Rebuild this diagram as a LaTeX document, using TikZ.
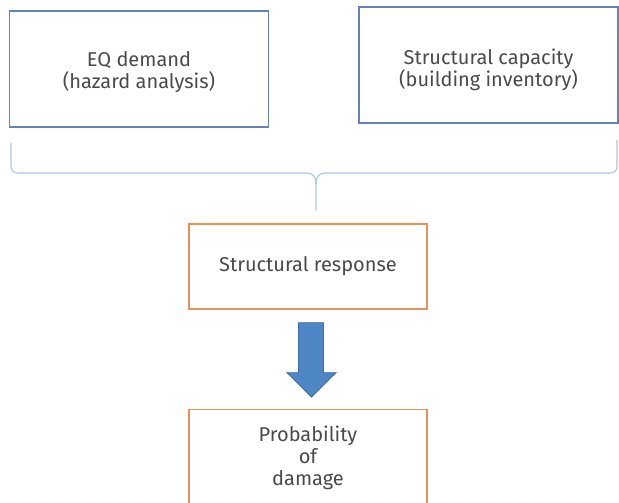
\documentclass[tikz,border=0pt]{standalone}
\usepackage{fontspec}
\setmainfont{Fira Sans}
\usetikzlibrary{calc}
\definecolor{boxblue}{HTML}{6383B8}
\definecolor{bracecol}{HTML}{A9C6E4}
\definecolor{boxorange}{HTML}{EE8F55}
\definecolor{arrowfill}{HTML}{4F86C6}
\definecolor{arrowline}{HTML}{3E6DA6}
\definecolor{txt}{HTML}{4A4A4A}
\tikzset{
  label text/.style={text=txt, align=center,
    font=\fontsize{20}{22}\selectfont, inner sep=0pt},
  box/.style={draw, line width=1.4pt, fill=white, label text},
  inputbox/.style={box, draw=boxblue, minimum width=259pt, minimum height=116pt},
  stagebox/.style={box, draw=boxorange, minimum width=238pt},
  bracepath/.style={draw=bracecol, line width=1.1pt},
}
\begin{document}
\begin{tikzpicture}[x=1pt,y=-1pt]
  \clip (0,0) rectangle (619,503);
  \fill[white] (0,0) rectangle (619,503);

  % inputs
  \node[inputbox] (demand) at (139,69) {};
  \node[label text] (demandtext) at ([yshift=-3pt]demand.center) {EQ demand\\(hazard analysis)};
  \node[inputbox] (capacity) at (488.5,65) {};
  \node[label text] (capacitytext) at ([yshift=-5pt]capacity.center) {Structural capacity\\(building inventory)};

  % brace gathering both inputs
  \coordinate (tip) at (316,210);
  \path[bracepath]
    (11,143) -- (11,166) .. controls (11,170) and (13,173) .. (18,173)
    -- (306,173) .. controls (313,173) and (316,176) .. (316,184) -- (tip);
  \path[bracepath]
    (617,140) -- (617,166) .. controls (617,170) and (615,173) .. (610,173)
    -- (326,173) .. controls (319,173) and (316,176) .. (316,184);

  % stages
  \node[stagebox, minimum height=85pt] (resp) at (308,266.5) {Structural response};
  \node[stagebox, minimum height=110pt, anchor=north] (prob) at (308,409) {};
  \node[label text] (probtext) at ([yshift=-49pt]prob.north) {Probability\\of\\damage};

  % block arrow between the stages
  \filldraw[fill=arrowfill, draw=arrowline, line width=0.8pt]
    ($(resp.south)+(-9.5,13)$) -- ($(resp.south)+(15.5,13)$)
    -- ($(resp.south)+(15.5,63)$) -- ($(resp.south)+(28,63)$)
    -- ($(prob.north)+(3.5,-12)$)
    -- ($(resp.south)+(-21,63)$) -- ($(resp.south)+(-9.5,63)$) -- cycle;
\end{tikzpicture}
\end{document}
